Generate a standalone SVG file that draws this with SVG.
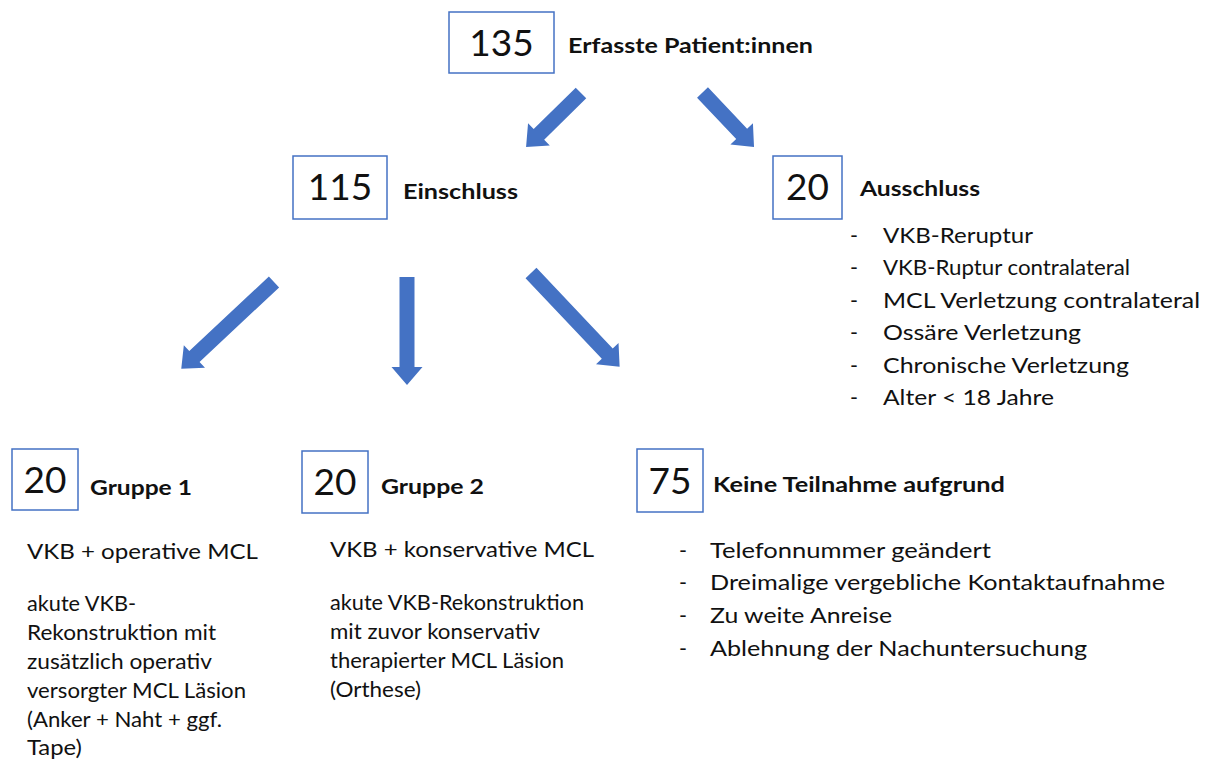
<svg xmlns="http://www.w3.org/2000/svg" width="1215" height="760" viewBox="0 0 1215 760">
<style>
text{font-family:Lato,"Open Sans","Liberation Sans",sans-serif;fill:#111}
.box{fill:#fff;stroke:#4472C4;stroke-width:1.5}
.num{font-size:37px;text-anchor:middle}
.hd{font-size:20px;font-weight:bold}
.mid{font-size:22px}
.sm{font-size:20.5px}
.bl{font-size:21.5px}
.arrow{fill:#4472C4}
</style>
<rect width="1215" height="760" fill="#fff"/>
<g id="connectors">
<path class="arrow" transform="translate(581,93) rotate(45.5)" d="M-7.5,0 L7.5,0 L7.5,59 L15.5,59 L0,77 L-15.5,59 L-7.5,59 Z"/>
<path class="arrow" transform="translate(702.5,92.5) rotate(-43.4)" d="M-7.5,0 L7.5,0 L7.5,57 L15.5,57 L0,75 L-15.5,57 L-7.5,57 Z"/>
<path class="arrow" transform="translate(274,282) rotate(46.9)" d="M-7.5,0 L7.5,0 L7.5,109 L15.5,109 L0,127 L-15.5,109 L-7.5,109 Z"/>
<path class="arrow" transform="translate(407,277)" d="M-7.5,0 L7.5,0 L7.5,90 L15.5,90 L0,108 L-15.5,90 L-7.5,90 Z"/>
<path class="arrow" transform="translate(531,273) rotate(-43.4)" d="M-7.5,0 L7.5,0 L7.5,111 L15.5,111 L0,129 L-15.5,111 L-7.5,111 Z"/>
</g>
<g id="erfasst">
<rect class="box" x="449" y="12" width="105" height="61"/>
<text class="num" x="501.5" y="56">135</text>
<text class="hd" x="568" y="53" textLength="245" lengthAdjust="spacingAndGlyphs">Erfasste Patient:innen</text>
</g>
<g id="einschluss">
<rect class="box" x="293" y="156" width="94" height="63"/>
<text class="num" x="340" y="200">115</text>
<text class="hd" x="403" y="199" textLength="115" lengthAdjust="spacingAndGlyphs">Einschluss</text>
</g>
<g id="ausschluss">
<rect class="box" x="773" y="156" width="69" height="63"/>
<text class="num" x="807.5" y="200">20</text>
<text class="hd" x="860" y="196" textLength="120" lengthAdjust="spacingAndGlyphs">Ausschluss</text>
<g class="bl">
<text x="850" y="243">-</text><text x="883" y="243" textLength="150" lengthAdjust="spacingAndGlyphs">VKB-Reruptur</text>
<text x="850" y="275">-</text><text x="883" y="275" textLength="247" lengthAdjust="spacingAndGlyphs">VKB-Ruptur contralateral</text>
<text x="850" y="308">-</text><text x="883" y="308" textLength="317" lengthAdjust="spacingAndGlyphs">MCL Verletzung contralateral</text>
<text x="850" y="340">-</text><text x="883" y="340" textLength="198" lengthAdjust="spacingAndGlyphs">Ossäre Verletzung</text>
<text x="850" y="373">-</text><text x="883" y="373" textLength="246" lengthAdjust="spacingAndGlyphs">Chronische Verletzung</text>
<text x="850" y="405">-</text><text x="883" y="405" textLength="171" lengthAdjust="spacingAndGlyphs">Alter &lt; 18 Jahre</text>
</g>
</g>
<g id="gruppe1">
<rect class="box" x="12" y="449" width="66" height="61"/>
<text class="num" x="45" y="493">20</text>
<text class="hd" x="90" y="495" textLength="102" lengthAdjust="spacingAndGlyphs">Gruppe 1</text>
<text class="mid" x="27" y="559" textLength="231" lengthAdjust="spacingAndGlyphs">VKB + operative MCL</text>
<g class="sm">
<text x="27" y="611" textLength="109" lengthAdjust="spacingAndGlyphs">akute VKB-</text>
<text x="27" y="640" textLength="189" lengthAdjust="spacingAndGlyphs">Rekonstruktion mit</text>
<text x="27" y="669" textLength="185" lengthAdjust="spacingAndGlyphs">zusätzlich operativ</text>
<text x="27" y="698" textLength="219" lengthAdjust="spacingAndGlyphs">versorgter MCL Läsion</text>
<text x="27" y="727" textLength="195" lengthAdjust="spacingAndGlyphs">(Anker + Naht + ggf.</text>
<text x="27" y="755" textLength="55" lengthAdjust="spacingAndGlyphs">Tape)</text>
</g>
</g>
<g id="gruppe2">
<rect class="box" x="302" y="451" width="66" height="62"/>
<text class="num" x="335" y="495">20</text>
<text class="hd" x="381" y="494" textLength="103" lengthAdjust="spacingAndGlyphs">Gruppe 2</text>
<text class="mid" x="330" y="557" textLength="264" lengthAdjust="spacingAndGlyphs">VKB + konservative MCL</text>
<g class="sm">
<text x="330" y="610" textLength="254" lengthAdjust="spacingAndGlyphs">akute VKB-Rekonstruktion</text>
<text x="330" y="639" textLength="210" lengthAdjust="spacingAndGlyphs">mit zuvor konservativ</text>
<text x="330" y="668" textLength="234" lengthAdjust="spacingAndGlyphs">therapierter MCL Läsion</text>
<text x="330" y="697" textLength="91" lengthAdjust="spacingAndGlyphs">(Orthese)</text>
</g>
</g>
<g id="keine-teilnahme">
<rect class="box" x="637" y="449" width="66" height="63"/>
<text class="num" x="670" y="494">75</text>
<text class="hd" x="713" y="492" textLength="292" lengthAdjust="spacingAndGlyphs">Keine Teilnahme aufgrund</text>
<g class="bl">
<text x="679" y="558">-</text><text x="710" y="558" textLength="281" lengthAdjust="spacingAndGlyphs">Telefonnummer geändert</text>
<text x="679" y="590">-</text><text x="710" y="590" textLength="455" lengthAdjust="spacingAndGlyphs">Dreimalige vergebliche Kontaktaufnahme</text>
<text x="679" y="623">-</text><text x="710" y="623" textLength="182" lengthAdjust="spacingAndGlyphs">Zu weite Anreise</text>
<text x="679" y="656">-</text><text x="710" y="656" textLength="377" lengthAdjust="spacingAndGlyphs">Ablehnung der Nachuntersuchung</text>
</g>
</g>
</svg>
